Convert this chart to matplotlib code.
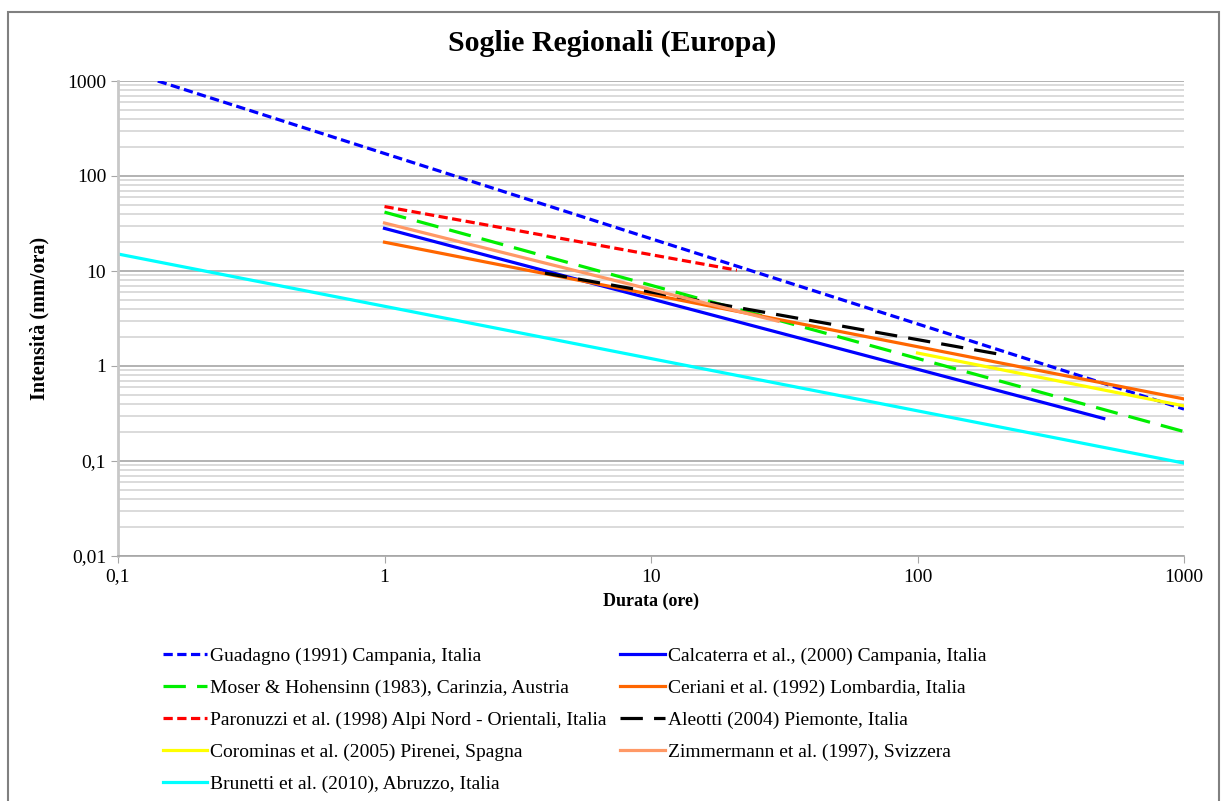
import matplotlib.pyplot as plt
from matplotlib.patches import Rectangle
from matplotlib.ticker import FixedLocator, FixedFormatter, LogLocator, NullFormatter

plt.rcParams["font.family"] = ["Liberation Serif", "DejaVu Serif"]

# durata (ore) e intensità (mm/ora) agli estremi di ciascuna soglia
guadagno_x = [0.141, 1000]
guadagno_y = [1000, 0.352]
calcaterra_x = [1, 500]
calcaterra_y = [28.1, 0.28]
moser_x = [1, 1000]
moser_y = [41.66, 0.204]
ceriani_x = [1, 1000]
ceriani_y = [20.1, 0.45]
paronuzzi_x = [1, 21]
paronuzzi_y = [47.7, 10.2]
aleotti_x = [4, 200]
aleotti_y = [9.5, 1.34]
corominas_x = [100, 1000]
corominas_y = [1.37, 0.38]
zimmermann_x = [1, 30]
zimmermann_y = [32, 2.96]
brunetti_x = [0.1, 1000]
brunetti_y = [15.1, 0.095]

x_ticks = [0.1, 1, 10, 100, 1000]
x_labels = ["0,1", "1", "10", "100", "1000"]
y_ticks = [0.01, 0.1, 1, 10, 100, 1000]
y_labels = ["0,01", "0,1", "1", "10", "100", "1000"]

fig = plt.figure(figsize=(12.23, 8.01), dpi=100)
ax = fig.add_axes([118 / 1223, 1 - 556 / 801, (1184 - 118) / 1223, (556 - 81) / 801])

lw = 2.3
short = (0, (2.9, 1.4))
long_ = (0, (7, 3.5))

l_guad, = ax.plot(guadagno_x, guadagno_y, color="#0000ff", lw=lw, linestyle=short,
                  label="Guadagno (1991) Campania, Italia")
l_calc, = ax.plot(calcaterra_x, calcaterra_y, color="#0000ff", lw=lw,
                  label="Calcaterra et al., (2000) Campania, Italia")
l_mos, = ax.plot(moser_x, moser_y, color="#00ee00", lw=lw, linestyle=long_,
                 label="Moser & Hohensinn (1983), Carinzia, Austria")
l_cer, = ax.plot(ceriani_x, ceriani_y, color="#ff6600", lw=lw,
                 label="Ceriani et al. (1992) Lombardia, Italia")
l_par, = ax.plot(paronuzzi_x, paronuzzi_y, color="#ff0000", lw=lw, linestyle=short,
                 label="Paronuzzi et al. (1998) Alpi Nord - Orientali, Italia")
l_ale, = ax.plot(aleotti_x, aleotti_y, color="#000000", lw=lw, linestyle=long_,
                 label="Aleotti (2004) Piemonte, Italia")
l_cor, = ax.plot(corominas_x, corominas_y, color="#ffff00", lw=lw,
                 label="Corominas et al. (2005) Pirenei, Spagna")
l_zim, = ax.plot(zimmermann_x, zimmermann_y, color="#ff9966", lw=lw,
                 label="Zimmermann et al. (1997), Svizzera")
l_bru, = ax.plot(brunetti_x, brunetti_y, color="#00ffff", lw=lw,
                 label="Brunetti et al. (2010), Abruzzo, Italia")

ax.set_xscale("log")
ax.set_yscale("log")
ax.set_xlim(0.1, 1000)
ax.set_ylim(0.01, 1000)

ax.xaxis.set_major_locator(FixedLocator(x_ticks))
ax.xaxis.set_major_formatter(FixedFormatter(x_labels))
ax.xaxis.set_minor_locator(FixedLocator([]))
ax.yaxis.set_major_locator(FixedLocator(y_ticks))
ax.yaxis.set_major_formatter(FixedFormatter(y_labels))
ax.yaxis.set_minor_locator(LogLocator(base=10, subs=range(2, 10)))
ax.yaxis.set_minor_formatter(NullFormatter())

ax.grid(axis="y", which="major", color="#a6a6a6", lw=1.2)
ax.grid(axis="y", which="minor", color="#d4d4d4", lw=1.2)
ax.set_axisbelow(True)

for s in ["top", "right"]:
    ax.spines[s].set_visible(False)
ax.spines["left"].set_color("#c8c8c8")
ax.spines["left"].set_linewidth(2)
ax.spines["bottom"].set_color("#a6a6a6")
ax.spines["bottom"].set_linewidth(1.2)

ax.tick_params(axis="both", which="major", labelsize=14, length=5, color="#a6a6a6")
ax.tick_params(axis="y", which="minor", length=0)
ax.tick_params(axis="x", pad=4)

ax.set_xlabel("Durata (ore)", fontsize=13, fontweight="bold", labelpad=5)
ax.set_ylabel("Intensità (mm/ora)", fontsize=14.5, fontweight="bold", labelpad=13)

fig.text(612 / 1223, 1 - 43 / 801, "Soglie Regionali (Europa)", ha="center", va="center",
         fontsize=21.5, fontweight="bold")

# ordine della legenda come nel grafico originale (per righe)
handles = [l_guad, l_mos, l_par, l_cor, l_bru, l_calc, l_cer, l_ale, l_zim]
fig.legend(handles, [h.get_label() for h in handles], loc="upper left",
           bbox_to_anchor=(145 / 1223, 1 - 630 / 801),
           ncol=2, frameon=False, fontsize=14, handlelength=2.3, handletextpad=0.15,
           columnspacing=0.7, labelspacing=0.735)

fig.add_artist(Rectangle((8 / 1223, -0.01), (1219 - 8) / 1223, 1 - 12 / 801 + 0.01,
                         transform=fig.transFigure, fill=False, edgecolor="#808080", lw=1.5))

fig.savefig("out.png", dpi=100)
